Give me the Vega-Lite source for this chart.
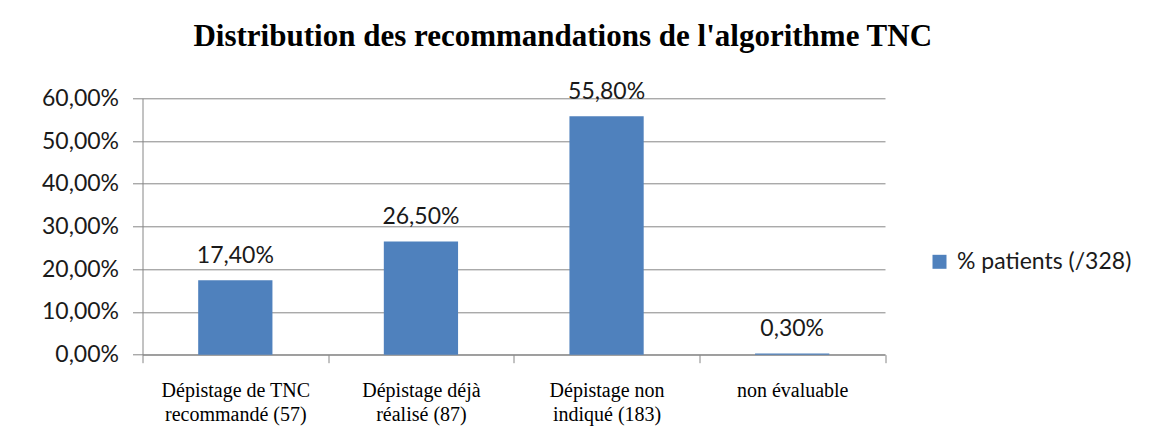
{
  "$schema": "https://vega.github.io/schema/vega-lite/v6.json",
  "autosize": "none",
  "width": 742.5,
  "height": 256.4,
  "padding": {"left": 142.5, "top": 98.3, "right": 266, "bottom": 92.3},
  "background": "white",
  "title": {
    "text": "Distribution des recommandations de l'algorithme TNC",
    "font": "Liberation Serif",
    "fontSize": 31,
    "fontWeight": "bold",
    "color": "#000000",
    "anchor": "middle",
    "frame": "group",
    "dx": 49,
    "offset": 28
  },
  "config": {
    "locale": {"number": {"decimal": ",", "thousands": " ", "grouping": [3], "currency": ["", " €"]}},
    "view": {"stroke": null}
  },
  "data": {
    "values": [
      {"cat": "Dépistage de TNC|recommandé (57)", "value": 0.174, "serie": "% patients (/328)"},
      {"cat": "Dépistage déjà|réalisé (87)", "value": 0.265, "serie": "% patients (/328)"},
      {"cat": "Dépistage non|indiqué (183)", "value": 0.558, "serie": "% patients (/328)"},
      {"cat": "non évaluable", "value": 0.003, "serie": "% patients (/328)"}
    ]
  },
  "encoding": {
    "x": {
      "field": "cat",
      "type": "nominal",
      "sort": null,
      "scale": {"paddingInner": 0, "paddingOuter": 0},
      "axis": {
        "title": null,
        "labelAngle": 0,
        "labelExpr": "split(datum.label, '|')",
        "labelFont": "Liberation Serif",
        "labelFontSize": 20,
        "labelColor": "#000000",
        "labelLineHeight": 24,
        "labelPadding": 18,
        "labelBaseline": "top",
        "labelLimit": 0,
        "tickBand": "extent",
        "tickSize": 8,
        "tickColor": "#868686",
        "domainColor": "#868686",
        "grid": false
      }
    },
    "y": {
      "field": "value",
      "type": "quantitative",
      "scale": {"domain": [0, 0.6], "nice": false},
      "axis": {
        "title": null,
        "values": [0, 0.1, 0.2, 0.3, 0.4, 0.5, 0.6],
        "format": ".2%",
        "labelFont": "Lato",
        "labelFontSize": 23,
        "labelColor": "#1a1a1a",
        "labelPadding": 14,
        "tickSize": 10,
        "tickColor": "#868686",
        "domainColor": "#868686",
        "gridColor": "#868686",
        "grid": true
      }
    }
  },
  "layer": [
    {
      "mark": {"type": "bar", "width": {"band": 0.4}},
      "encoding": {
        "color": {
          "field": "serie",
          "type": "nominal",
          "scale": {"range": ["#4F81BD"]},
          "legend": {
            "title": null,
            "orient": "none",
            "legendX": 785.5,
            "legendY": 152,
            "symbolType": "square",
            "symbolSize": 196,
            "symbolStrokeWidth": 0,
            "labelFont": "Lato",
            "labelFontSize": 23,
            "labelColor": "#1a1a1a",
            "labelOffset": 6,
            "labelLimit": 0,
            "padding": 0
          }
        }
      }
    },
    {
      "mark": {"type": "text", "baseline": "alphabetic", "dy": -17, "font": "Lato", "fontSize": 23, "color": "#1a1a1a"},
      "encoding": {
        "text": {"field": "value", "type": "quantitative", "format": ".2%"}
      }
    }
  ]
}
